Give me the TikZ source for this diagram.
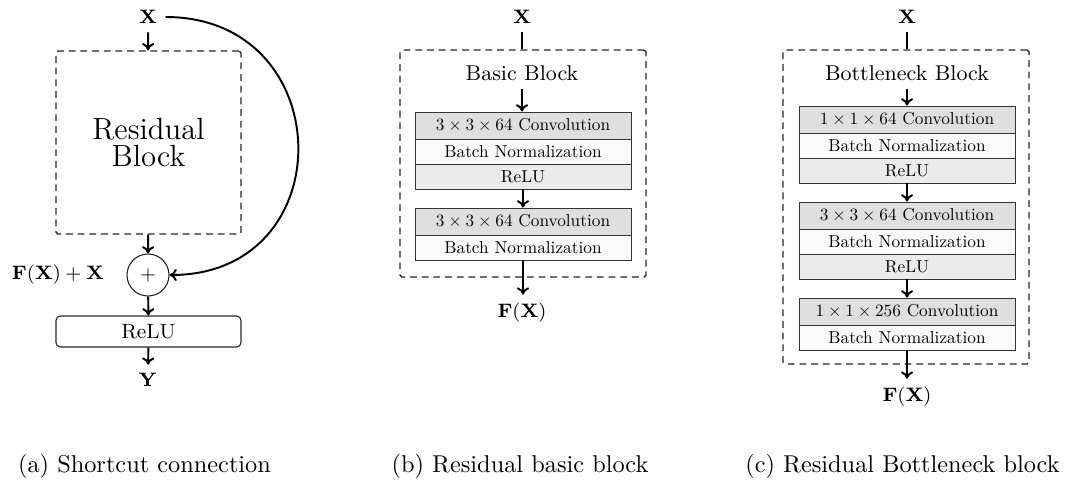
\documentclass[tikz,border=0pt]{standalone}
\usepackage{graphicx}
\usetikzlibrary{arrows.meta}
\newdimen\px \px=0.411pt
% layer labels: 10pt design size, shrunk to fit the layer bars
\newcommand{\laytxt}[1]{\scalebox{0.71}{#1}}
\begin{document}
\begin{tikzpicture}[x=0.411pt,y=-0.411pt,
  arr/.style={thick,-{To[length=3pt,width=5pt]}},
  link/.style={thick},
  frame/.style={draw=black!85,line width=0.55pt,dash pattern=on 2.8pt off 2pt,
    rounded corners=0.8pt,inner sep=0pt},
  layer/.style={draw=black!80,line width=0.4pt,minimum width=216\px,inner sep=0pt,
    font=\fontsize{10}{12}\selectfont},
  convl/.style={layer,fill=gray!25,minimum height=27\px},
  bnl/.style={layer,fill=gray!4,minimum height=25\px},
  relul/.style={layer,fill=gray!16,minimum height=25\px},
  sym/.style={font=\fontsize{8.5}{10}\selectfont},
  title/.style={font=\fontsize{8.8}{10}\selectfont},
  captxt/.style={font=\fontsize{10}{12}\selectfont}]
\useasboundingbox (0,0) rectangle (1071,483);

% (a) shortcut connection
\node[sym] (ax) at (148,17) {$\mathbf{X}$};
\node[frame,minimum width=185\px,minimum height=183\px,align=center,
  font=\fontsize{12.6}{10.7}\selectfont] (ares) at (148.5,142.5) {Residual\\Block};
\node[circle,draw=black!85,line width=0.45pt,minimum size=42\px,inner sep=0pt,
  font=\fontsize{10}{12}\selectfont] (aplus) at (148,275) {\scalebox{0.84}{$+$}};
\node[sym] (alabel) at (58,275) {$\mathbf{F}(\mathbf{X})+\mathbf{X}$};
\node[draw=black!85,line width=0.45pt,rounded corners=1.8pt,minimum width=185\px,
  minimum height=31\px,inner sep=0pt,sym] (arelu) at (148.5,331.5) {ReLU};
\node[sym] (ay) at (148,380) {$\mathbf{Y}$};
\draw[arr] (ax) -- (ares);
\draw[arr] (ares) -- (aplus);
\draw[arr] (aplus) -- (arelu);
\draw[arr] (arelu) -- (ay);
\draw[arr] (ax.east) .. controls +(174,0) and +(174,0) .. (aplus.east);

% (b) residual basic block
\node[sym] (bx) at (522,17) {$\mathbf{X}$};
\node[frame,minimum width=246\px,minimum height=227\px] (bframe) at (523,163.5) {};
\node[title] (btitle) at (522,73) {Basic Block};
\node[convl] (bc1) at (523,125.5) {\laytxt{$3\times3\times64$ Convolution}};
\node[bnl]   (bb1) at (523,151.5) {\laytxt{Batch Normalization}};
\node[relul] (br1) at (523,176.5) {\laytxt{ReLU}};
\node[convl] (bc2) at (523,221.5) {\laytxt{$3\times3\times64$ Convolution}};
\node[bnl]   (bb2) at (523,247.5) {\laytxt{Batch Normalization}};
\node[sym] (bfx) at (522,313) {$\mathbf{F}(\mathbf{X})$};
\draw[link] (bx.south) -- (bx.south |- bframe.north);
\draw[arr] (btitle.south) -- (btitle.south |- bc1.north);
\draw[arr] (br1) -- (bc2);
\draw[arr] (bb2.south) -- (bb2.south |- bfx.north);

% (c) residual bottleneck block
\node[sym] (cx) at (907,17) {$\mathbf{X}$};
\node[frame,minimum width=246\px,minimum height=314\px] (cframe) at (906,207) {};
\node[title] (ctitle) at (907,73) {Bottleneck Block};
\node[convl] (cc1) at (907,119.5) {\laytxt{$1\times1\times64$ Convolution}};
\node[bnl]   (cb1) at (907,145.5) {\laytxt{Batch Normalization}};
\node[relul] (cr1) at (907,170.5) {\laytxt{ReLU}};
\node[convl] (cc2) at (907,215.5) {\laytxt{$3\times3\times64$ Convolution}};
\node[bnl]   (cb2) at (907,241.5) {\laytxt{Batch Normalization}};
\node[relul] (cr2) at (907,266.5) {\laytxt{ReLU}};
\node[convl] (cc3) at (907,311.5) {\laytxt{$1\times1\times256$ Convolution}};
\node[bnl]   (cb3) at (907,337.5) {\laytxt{Batch Normalization}};
\node[sym] (cfx) at (907,397) {$\mathbf{F}(\mathbf{X})$};
\draw[link] (cx.south) -- (cx.south |- cframe.north);
\draw[arr] (ctitle) -- (cc1);
\draw[arr] (cr1) -- (cc2);
\draw[arr] (cr2) -- (cc3);
\draw[arr] (cb3) -- (cfx);

% captions
\node[captxt] (capa) at (144.5,466) {(a) Shortcut connection};
\node[captxt] (capb) at (520,466) {(b) Residual basic block};
\node[captxt] (capc) at (902.5,466) {(c) Residual Bottleneck block};
\end{tikzpicture}
\end{document}
